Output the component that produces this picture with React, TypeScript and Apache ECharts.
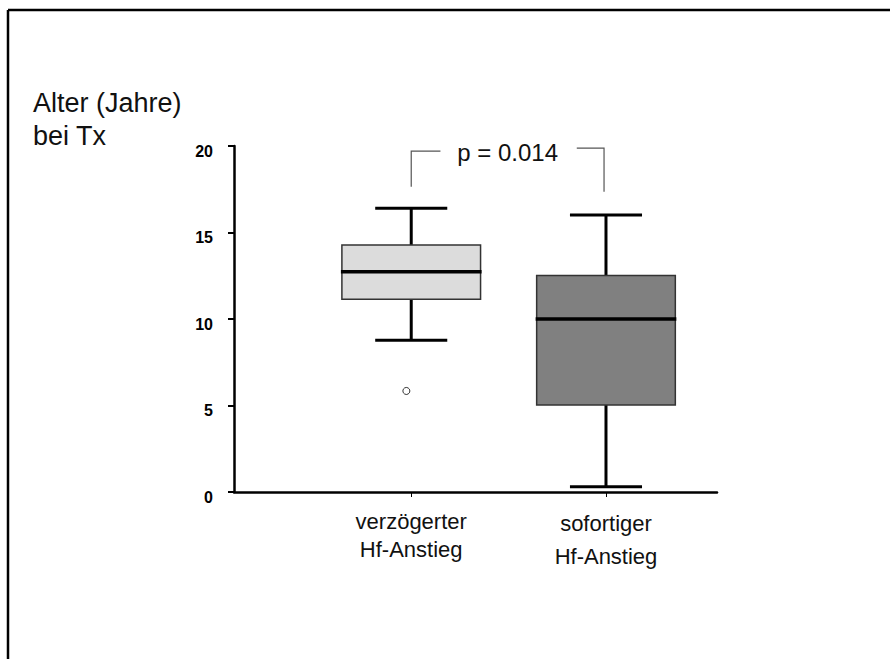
import React, { useEffect, useRef } from "react";
import * as echarts from "echarts";

// Data
const categories = ["verzögerter\nHf-Anstieg", "sofortiger\nHf-Anstieg"];
const categoryPositions = [1, 2];
// [position, lowerWhisker, q1, median, q3, upperWhisker]
const boxStats = [
  [1, 8.77, 11.14, 12.73, 14.28, 16.4],
  [2, 0.31, 5.03, 10.0, 12.52, 16.01],
];
const boxColors = ["#dcdcdc", "#808080"];
const outliers = [[0.975, 5.84]];
const yTicks = [0, 5, 10, 15, 20];
// brackets: [xVertical, xEnd, yTop, yBottom]
const brackets = [
  [1.0, 1.15, 19.7, 17.65],
  [1.99, 1.85, 19.88, 17.36],
];
const pLabel = "p = 0.014";
const pLabelPos = [1.495, 19.65];
const yTitle = "Alter (Jahre)\nbei Tx";

const BOX_HALF = 0.356;
const CAP_HALF = 0.185;

export default function App() {
  const ref = useRef<HTMLDivElement>(null);
  useEffect(() => {
    document.body.style.margin = "0";
    document.body.style.overflow = "hidden";
    const chart = echarts.init(ref.current!, null, { renderer: "svg" });
    const font = "'Liberation Sans', Arial, sans-serif";
    chart.setOption({
      animation: false,
      backgroundColor: "#ffffff",
      grid: { left: 234, right: 173, top: 146, bottom: 167 },
      xAxis: {
        type: "value",
        min: 0.09,
        max: 2.57,
        splitLine: { show: false },
        axisLine: { show: true, onZero: false, lineStyle: { color: "#000", width: 2.5 } },
        axisTick: {
          show: true,
          customValues: categoryPositions,
          length: 5,
          lineStyle: { color: "#000", width: 1 },
        },
        axisLabel: {
          show: true,
          customValues: categoryPositions,
          formatter: (v: number) => {
            const i = categoryPositions.indexOf(Math.round(v));
            if (i === 0) return "{a|" + categories[0].replace("\n", "}\n{a|") + "}";
            if (i === 1) return "{b|" + categories[1].replace("\n", "}\n{b|") + "}";
            return "";
          },
          margin: 15,
          rich: {
            a: { fontSize: 22, lineHeight: 28, color: "#111", fontFamily: font },
            b: { fontSize: 22, lineHeight: 33, color: "#111", fontFamily: font },
          },
          fontSize: 22,
          color: "#111",
          fontFamily: font,
        },
      },
      yAxis: {
        type: "value",
        min: 0,
        max: 20,
        interval: 5,
        splitLine: { show: false },
        axisLine: { show: true, lineStyle: { color: "#000", width: 2.5 } },
        axisTick: { show: true, length: 6, lineStyle: { color: "#000", width: 2 } },
        axisLabel: {
          margin: 21,
          fontSize: 16,
          fontWeight: "bold",
          color: "#000",
          fontFamily: font,
          verticalAlign: "top",
          lineHeight: 10,
          formatter: (v: number) => (yTicks.includes(v) ? String(v) : ""),
        },
      },
      graphic: [
        {
          type: "line",
          shape: { x1: 8, y1: 10, x2: 890, y2: 10 },
          style: { stroke: "#000", lineWidth: 2.5 },
          silent: true,
        },
        {
          type: "line",
          shape: { x1: 8, y1: 10, x2: 8, y2: 659 },
          style: { stroke: "#000", lineWidth: 2.5 },
          silent: true,
        },
        {
          type: "text",
          left: 33,
          top: 86,
          style: {
            text: yTitle,
            fontSize: 27,
            lineHeight: 33,
            fontFamily: font,
            fill: "#111",
          },
        },
      ],
      series: [
        {
          type: "custom",
          name: "box",
          data: boxStats,
          encode: { x: 0, y: [1, 2, 3, 4, 5] },
          renderItem: (params: any, api: any) => {
            const x = api.value(0);
            const low = api.value(1);
            const q1 = api.value(2);
            const med = api.value(3);
            const q3 = api.value(4);
            const high = api.value(5);
            const c = (xv: number, yv: number) => api.coord([xv, yv]);
            const pHigh = c(x, high);
            const pQ3 = c(x, q3);
            const pQ1 = c(x, q1);
            const pLow = c(x, low);
            const tl = c(x - BOX_HALF, q3);
            const br = c(x + BOX_HALF, q1);
            const capL = c(x - CAP_HALF, high)[0];
            const capR = c(x + CAP_HALF, high)[0];
            const medL = c(x - BOX_HALF, med);
            const medR = c(x + BOX_HALF, med);
            const ws = { stroke: "#000", lineWidth: 3 };
            return {
              type: "group",
              children: [
                { type: "line", shape: { x1: pHigh[0], y1: pHigh[1], x2: pQ3[0], y2: pQ3[1] }, style: ws },
                { type: "line", shape: { x1: pQ1[0], y1: pQ1[1], x2: pLow[0], y2: pLow[1] }, style: ws },
                { type: "line", shape: { x1: capL, y1: pHigh[1], x2: capR, y2: pHigh[1] }, style: ws },
                { type: "line", shape: { x1: capL, y1: pLow[1], x2: capR, y2: pLow[1] }, style: ws },
                {
                  type: "rect",
                  shape: { x: tl[0], y: tl[1], width: br[0] - tl[0], height: br[1] - tl[1] },
                  style: { fill: boxColors[params.dataIndex], stroke: "#333", lineWidth: 1.5 },
                },
                {
                  type: "line",
                  shape: { x1: medL[0] - 1, y1: medL[1], x2: medR[0] + 1, y2: medR[1] },
                  style: { stroke: "#000", lineWidth: 3.5 },
                },
              ],
            };
          },
          z: 2,
        },
        {
          type: "scatter",
          data: outliers,
          symbol: "circle",
          symbolSize: 7,
          itemStyle: { color: "#fff", borderColor: "#000", borderWidth: 1 },
          z: 3,
        },
        {
          type: "custom",
          name: "bracket",
          data: brackets,
          encode: { x: [0, 1], y: [2, 3] },
          renderItem: (params: any, api: any) => {
            const top = api.coord([api.value(0), api.value(2)]);
            const bottom = api.coord([api.value(0), api.value(3)]);
            const end = api.coord([api.value(1), api.value(2)]);
            return {
              type: "polyline",
              shape: { points: [[bottom[0], bottom[1]], [top[0], top[1]], [end[0], end[1]]] },
              style: { stroke: "#555", lineWidth: 1.2, fill: "none" },
            };
          },
          z: 3,
        },
        {
          type: "custom",
          name: "pvalue",
          data: [pLabelPos],
          encode: { x: 0, y: 1 },
          renderItem: (params: any, api: any) => {
            const p = api.coord([api.value(0), api.value(1)]);
            return {
              type: "text",
              x: p[0],
              y: p[1],
              style: {
                text: pLabel,
                fontSize: 24,
                fontFamily: font,
                fill: "#111",
                align: "center",
                verticalAlign: "middle",
              },
            };
          },
          z: 3,
        },
      ],
    });
    return () => chart.dispose();
  }, []);
  return <div ref={ref} style={{ width: 890, height: 659 }} />;
}
